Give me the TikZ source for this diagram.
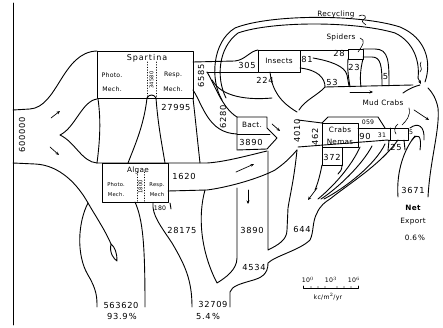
\documentclass[tikz,border=0pt]{standalone}
\usepackage{fontspec}
\newfontfamily\numfont[LetterSpace=8]{DejaVu Sans}
\newfontfamily\namefont[LetterSpace=4]{DejaVu Sans}
\newfontfamily\widefont[LetterSpace=12]{DejaVu Sans}
\newcommand\fnum{\numfont\fontsize{8.3}{9}\selectfont}
\newcommand\fname{\namefont\fontsize{7.3}{8}\selectfont}
\newcommand\fwide{\widefont\fontsize{8}{8.5}\selectfont}
\newcommand\fsmall{\namefont\fontsize{6.2}{6.5}\selectfont}
\newcommand\ftiny{\namefont\fontsize{5.2}{5.5}\selectfont}
\usetikzlibrary{arrows.meta}
\begin{document}
\begin{tikzpicture}[x=1pt,y=-1pt,line width=0.9pt,line join=round,line cap=round,
  lnum/.style={font=\fnum,inner sep=0pt},
  lname/.style={font=\fname,inner sep=0pt},
  lsmall/.style={font=\fsmall,inner sep=0pt},
  ltiny/.style={font=\ftiny,inner sep=0pt},
  box/.style={draw,inner sep=0pt,outer sep=0pt},
  arr/.style={-{Stealth[length=3.5pt,width=3pt]},line width=0.7pt},
  hair/.style={line width=0.6pt}]
\useasboundingbox (0,0) rectangle (443,328);
\fill[white] (0,0) rectangle (443,328);
% frame
\draw (13,3) -- (13,325);
% incoming light
\node[lnum,rotate=90] (light) at (22,135) {600000};
\draw (13,110) -- (30,109) .. controls (58,107) and (62,52) .. (97,51);
\draw (13,163) -- (35,164) .. controls (60,165) and (78,185) .. (88,203) .. controls (98,220) and (106,232) .. (111,244);
\draw (111,244) .. controls (109,253) and (114,259) .. (117,261) .. controls (117,253) and (115,247) .. (111,244);
\draw (97,99) .. controls (82,101) and (75,128) .. (60,135) .. controls (75,142) and (82,162) .. (97,163);
\draw[arr] (51,118) -- (60,111);
\draw[arr] (50,147) -- (59,155);
% unused light outflow
\draw (88,203) .. controls (78,222) and (76,255) .. (88,275) .. controls (97,290) and (97,298) .. (97,307);
\draw (135,202) .. controls (143,220) and (145,245) .. (145,307);
\node[lnum] (out1) at (121,305) {563620};
\node[lnum] (pct1) at (122,316) {93.9\,\%};
% Spartina
\node[box,minimum width=96pt,minimum height=47pt] (spartina) at (145,74.5) {};
\node[inner sep=0pt,font=\fwide] (spname) at (147,58) {Spartina};
\node[lsmall] (sp1) at (112,75) {Photo.};
\node[lsmall] (sp2) at (112,89) {Mech.};
\node[lsmall] (sp3) at (173,75) {Resp.};
\node[lsmall] (sp4) at (173,89) {Mech.};
\draw[dotted,hair] (147,62) -- (147,98);
\draw[dotted,hair] (156,62) -- (156,98);
\node[ltiny,rotate=90] (spg) at (151.5,80) {34580};
% middle passage
\draw (98,99) .. controls (101,120) and (100,140) .. (97,163);
\draw (147,98) .. controls (144,125) and (135,145) .. (128,163);
\draw (147,98) .. controls (149,94) and (154,94) .. (156,98);
\draw (156,98) .. controls (158,125) and (162,145) .. (165,163);
\draw (193,98) .. controls (196,125) and (198,145) .. (200,163);
\node[lnum] (spr) at (176,107) {27995};
% Algae
\node[box,minimum width=66pt,minimum height=39pt] (algae) at (135,183) {};
\node[inner sep=0pt,font=\fname] (alname) at (138,170) {Algae};
\node[ltiny] (al1) at (116,185) {Photo.};
\node[ltiny] (al2) at (116,195) {Mech.};
\node[ltiny] (al3) at (157,185) {Resp.};
\node[ltiny] (al4) at (157,195) {Mech};
\draw[dotted,hair] (137,172) -- (137,202);
\draw[dotted,hair] (144,172) -- (144,202);
\node[ltiny,rotate=90] (alg) at (140.5,187) {1800};
% 1620 channel
\draw (97,163) -- (207,163) .. controls (225,162) and (250,155) .. (267,151);
\draw (168,191) -- (207,190) .. controls (230,187) and (260,178) .. (275,170) .. controls (285,163) and (290,158) .. (297,150);
\node[lnum] (n1620) at (184,176) {1620};
\draw[arr] (236,172) -- (254,164);
% 180 and 28175
\draw (170,203) -- (171,209);
\node[lsmall] (n180) at (160,208) {180};
\draw (153,203) .. controls (152,215) and (160,225) .. (172,243) .. controls (185,265) and (192,280) .. (192,307);
\draw (205,190) .. controls (198,215) and (200,250) .. (217,283) .. controls (225,278) and (237,270) .. (237,258) -- (237,188);
\node[lnum] (n28175) at (182,230) {28175};
% 3890 / 644 / 4534 / 32709
\draw (268,151) -- (268,250) .. controls (278,245) and (287,240) .. (287,230) -- (288,208) .. controls (290,195) and (294,180) .. (297,150);
\draw[arr] (248,190) -- (248,204);
\node[lnum] (n3890b) at (252,230) {3890};
\node[lnum] (n644) at (302,229) {644};
\draw (230,307) -- (230,292) .. controls (232,286) and (240,284) .. (250,281) .. controls (262,278) and (268,274) .. (268,263) .. controls (275,256) and (300,250) .. (310,240) .. controls (314,232) and (312,222) .. (317,213) .. controls (320,206) and (325,202) .. (330,199) .. controls (350,183) and (380,165) .. (398,140);
\node[lnum] (n4534) at (254,267) {4534};
\node[lnum] (n32709) at (213,304) {32709};
\node[lnum] (pct2) at (208,316) {5.4\,\%};
% Spartina -> insects / bacteria
\draw (193,62) -- (235,61) .. controls (245,60) and (250,51) .. (258,50);
\draw (207,72) -- (258,72);
\node[lnum,rotate=90] (n6585) at (201,76) {6585};
\draw (207,72) .. controls (215,85) and (222,108) .. (237,117);
\draw (193,90) .. controls (203,105) and (208,133) .. (237,134);
\node[lnum,rotate=90] (n6280) at (223,117) {6280};
% bacteria
\draw (237,117) -- (267,117) -- (267,128) -- (277,138) -- (267,149) -- (237,150) -- cycle;
\draw (237,134) -- (270,134);
\node[lname] (bact) at (252,125) {Bact.};
\node[lnum] (n3890) at (251,142) {3890};
\draw[arr] (272,124) -- (280,131);
% recycling
\draw (222,100) .. controls (210,80) and (212,42) .. (235,28) .. controls (270,14) and (360,14) .. (400,27) .. controls (426,38) and (432,62) .. (425,82);
\draw[arr] (418,78) -- (421,84);
\draw (226,98) .. controls (216,78) and (218,48) .. (238,33) .. controls (272,21) and (355,21) .. (395,33) .. controls (414,42) and (420,62) .. (418,78);
\node[lname] (recyc) at (336,14) {Recycling};
\draw[hair] (359,16) .. controls (365,13) and (368,18) .. (363,20) .. controls (361,22) and (364,23) .. (366,25);
\draw[hair] (421,62) .. controls (418,66) and (424,68) .. (420,72);
% insects
\node[box,minimum width=42pt,minimum height=22pt] (insects) at (279,61) {};
\node[lname] (insname) at (279,61) {Insects};
\node[lnum] (n305) at (247,65) {305};
\node[lnum] (n81) at (307,59) {81};
\node[lnum] (n224) at (265,80) {224};
\draw (270,72) .. controls (272,90) and (280,102) .. (297,112);
\draw (212,80) .. controls (222,98) and (250,100) .. (272,98);
\draw (300,68) .. controls (318,70) and (325,78) .. (325,87) .. controls (318,95) and (305,100) .. (299,110);
\node[lnum,rotate=90] (n4010) at (297,131) {4010};
% spiders
\draw (300,50) -- (348,50);
\node[box,minimum width=15pt,minimum height=10pt] (spiders) at (355.5,54) {};
\node[lname] (spidname) at (341,37) {Spiders};
\draw[hair] (360,38) .. controls (366,40) and (363,45) .. (358,52);
\node[lnum] (n28) at (339,53) {28};
\node[lnum] (n23) at (354,67) {23};
\draw (313,58) .. controls (330,61) and (345,66) .. (347,75) -- (349,86);
\draw (348,59) .. controls (347,70) and (349,80) .. (350,87);
\draw (363,59) .. controls (360,70) and (360,80) .. (361,87);
\draw (363,49) -- (375,49) .. controls (389,49) and (389,62) .. (389,86);
\draw (363,57) -- (372,57) .. controls (381,57) and (382,66) .. (382,86);
\node[lnum] (n5a) at (385.5,77) {5};
\node[lnum] (n53) at (332,82) {53};
\draw (325,87) -- (413,85);
\draw[arr] (350,92) -- (373,92);
\draw (403,93) .. controls (410,88) and (416,86) .. (420,85);
% mud crabs / crabs
\node[lname] (mudname) at (383,103) {Mud Crabs};
\draw[hair] (409,108) .. controls (411,116) and (406,121) .. (402,125);
\draw[hair] (398,124) .. controls (394,127) and (394,131) .. (396,134);
\draw[arr] (414,110) -- (429,120);
\draw (298,120) -- (322,123);
\draw (298,147) -- (388,140);
\node[box,minimum width=36pt,minimum height=24pt] (crabs) at (340,135) {};
\node[lname] (crname) at (340,130) {Crabs};
\node[lname] (nemname) at (340,141.5) {Nemas};
\node[lnum,rotate=90] (n462) at (315,137) {462};
\draw (322,123) -- (328,117) -- (378,117) -- (385,128);
\node[lsmall] (n059) at (368,122) {059};
\draw (358,128) -- (408,128) -- (408,140) -- (388,140);
\draw (390,128) -- (390,140);
\node[lnum] (n90) at (365,136) {90};
\node[lsmall] (n31) at (382,135) {31};
\node[lsmall] (n5b) at (411,132) {5};
\node[lnum] (n25) at (396,147) {25};
\draw (389,140) -- (388,151);
\draw (404,140) -- (405,150);
\node[box,minimum width=20pt,minimum height=18pt] (nem) at (332,156) {};
\node[lnum] (n372) at (332,157) {372};
% fan to 644
\draw (322,165) .. controls (320,175) and (318,183) .. (315,190);
\draw (342,165) .. controls (342,170) and (340,172) .. (338,174);
\draw (360,147) .. controls (352,165) and (335,185) .. (318,199);
\draw (372,146) .. controls (362,165) and (338,188) .. (321,199);
\draw (385,144) .. controls (375,165) and (345,188) .. (324,199);
\draw[arr] (317,188) -- (308,200);
% net export
\draw (398,197) .. controls (396,170) and (405,148) .. (415,136);
\draw (428,197) .. controls (430,160) and (440,130) .. (438,108) .. controls (436,98) and (432,92) .. (428,88);
\draw (410,128) .. controls (418,122) and (425,126) .. (424,140);
\draw (412,140) .. controls (418,132) and (422,136) .. (420,150);
\node[lnum] (n3671) at (413,190) {3671};
\node[inner sep=0pt,font=\fname\bfseries] (netname) at (413,208) {Net};
\node[lname] (expname) at (413,222) {Export};
\node[lname] (pct3) at (415,238) {0.6\,\%};
% scale
\node[lsmall] (s0) at (308,280) {10$^0$};
\node[lsmall] (s3) at (331,280) {10$^3$};
\node[lsmall] (s6) at (354,280) {10$^6$};
\draw[hair] (303,286) -- (303,288) -- (358,288) -- (358,286);
\foreach \xx in {311,318,325,337,344,351} \fill (\xx,287) circle (0.6);
\node[lsmall] (unit) at (328,297) {kc/m$^2$/yr};
\end{tikzpicture}
\end{document}
